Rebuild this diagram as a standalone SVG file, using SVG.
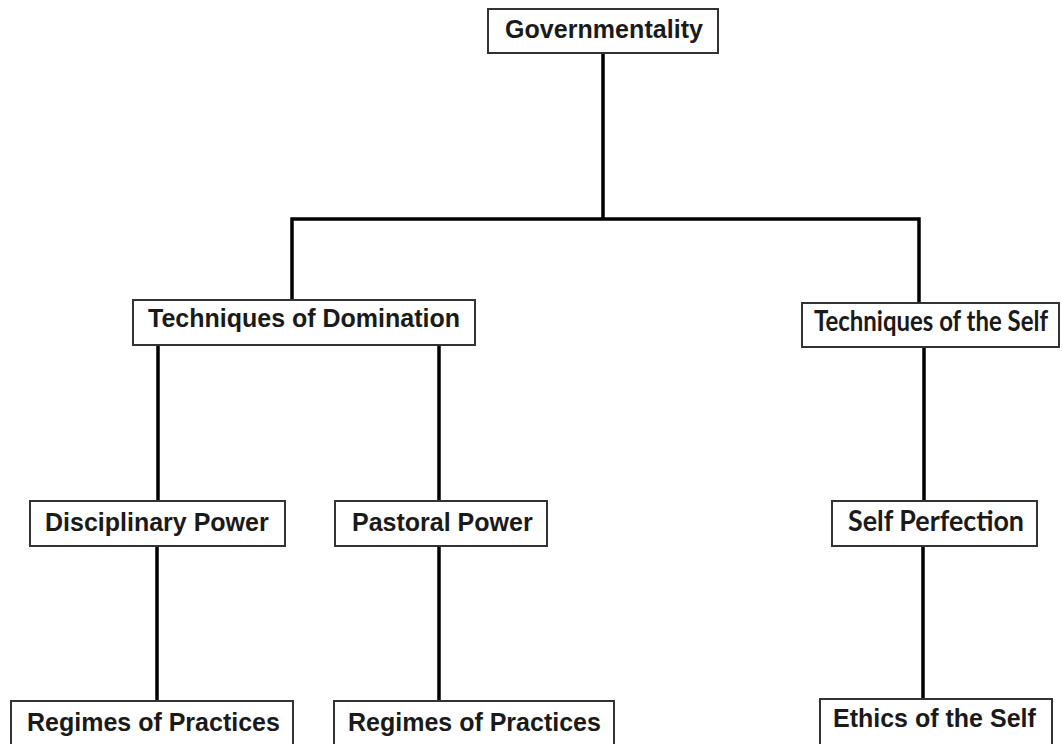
<svg xmlns="http://www.w3.org/2000/svg" width="1062" height="744" viewBox="0 0 1062 744">
<style>
.box{fill:#fff;stroke:#333;stroke-width:2}
.lbl{font-family:"Liberation Sans",Arial,sans-serif;font-weight:bold;font-size:25px;fill:#1a1a1a}
.lbl2{font-family:Lato,"Liberation Sans",sans-serif;font-weight:bold;font-size:28px;fill:#1a1a1a}
.conn{stroke:#000;stroke-width:3.5;fill:none}
</style>
<rect width="1062" height="744" fill="#fff"/>
<g id="connectors">
<path class="conn" d="M603,53 V219 M292,300 V219 H919 V303"/>
<path class="conn" d="M158,345 V501 M439,345 V501"/>
<path class="conn" d="M924,347 V501"/>
<path class="conn" d="M157,546 V701 M439,546 V701"/>
<path class="conn" d="M923,546 V699"/>
</g>
<g id="n-governmentality">
<rect class="box" x="488" y="9" width="230" height="44"/>
<text class="lbl" x="505" y="38" textLength="198">Governmentality</text>
</g>
<g id="n-domination">
<rect class="box" x="133" y="300" width="342" height="45"/>
<text class="lbl" x="148" y="327">Techniques of Domination</text>
</g>
<g id="n-self">
<rect class="box" x="802" y="303" width="257" height="44"/>
<text class="lbl2" x="814" y="331" font-size="24" textLength="234" lengthAdjust="spacingAndGlyphs">Techniques of the Self</text>
</g>
<g id="n-disciplinary">
<rect class="box" x="30" y="501" width="255" height="45"/>
<text class="lbl" x="45" y="531">Disciplinary Power</text>
</g>
<g id="n-pastoral">
<rect class="box" x="335" y="501" width="212" height="45"/>
<text class="lbl" x="352" y="531">Pastoral Power</text>
</g>
<g id="n-perfection">
<rect class="box" x="832" y="501" width="205" height="45"/>
<text class="lbl2" x="848" y="531" textLength="176" lengthAdjust="spacingAndGlyphs">Self Perfection</text>
</g>
<g id="n-regimes1">
<rect class="box" x="11" y="701" width="282" height="60"/>
<text class="lbl" x="27" y="731">Regimes of Practices</text>
</g>
<g id="n-regimes2">
<rect class="box" x="334" y="701" width="280" height="60"/>
<text class="lbl" x="348" y="731">Regimes of Practices</text>
</g>
<g id="n-ethics">
<rect class="box" x="820" y="699" width="232" height="60"/>
<text class="lbl" x="833" y="727">Ethics of the Self</text>
</g>
</svg>
